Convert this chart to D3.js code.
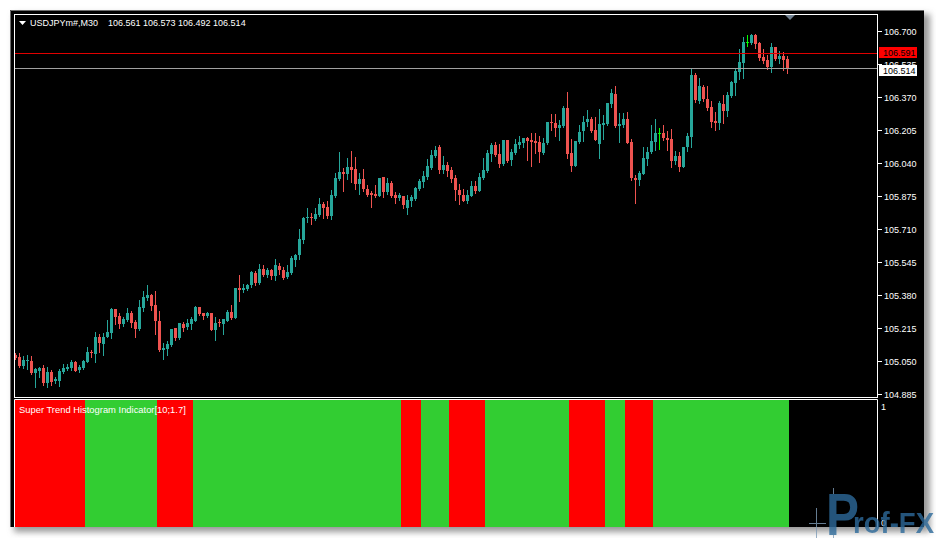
<!DOCTYPE html>
<html><head><meta charset="utf-8">
<script src="https://cdn.jsdelivr.net/npm/d3@7"></script>
<style>html,body{margin:0;padding:0;background:#fff;overflow:hidden}svg{display:block}</style>
</head><body>
<svg id="c" width="936" height="538"></svg>
<script>
const symbolTitle = "USDJPYm#,M30";
const lastQuote = [106.561, 106.573, 106.492, 106.514];
const askPrice = 106.591;
const bidPrice = 106.514;
const priceTicks = [106.700, 106.535, 106.370, 106.205, 106.040, 105.875, 105.710, 105.545, 105.380, 105.215, 105.050, 104.885];
const indicatorName = "Super Trend Histogram Indicator[10;1.7]";
const indicatorTicks = [1, 0];
const watermark = ["P", "rof-FX"];

const open = [
105.080,105.070,105.025,105.050,105.050,104.990,105.000,105.015,104.940,104.995,
104.950,104.950,104.995,105.010,105.015,105.045,105.005,105.015,105.045,105.095,
105.085,105.170,105.135,105.170,105.190,105.310,105.275,105.235,105.255,105.290,
105.245,105.210,105.315,105.365,105.380,105.330,105.250,105.105,105.110,105.130,
105.215,105.165,105.235,105.220,105.235,105.250,105.320,105.290,105.275,105.290,
105.205,105.245,105.235,105.250,105.295,105.265,105.415,105.405,105.410,105.430,
105.490,105.440,105.510,105.480,105.505,105.475,105.525,105.505,105.470,105.490,
105.555,105.580,105.655,105.765,105.770,105.760,105.780,105.835,105.820,105.775,
105.875,105.960,105.995,105.985,106.020,106.010,105.935,105.960,105.910,105.890,
105.885,105.875,105.970,105.895,105.940,105.880,105.865,105.875,105.815,105.850,
105.860,105.910,105.945,105.970,106.015,106.075,106.120,106.005,106.030,106.005,
105.965,105.905,105.880,105.850,105.875,105.925,105.900,105.965,106.000,106.085,
106.130,106.085,106.035,106.155,106.055,106.090,106.130,106.140,106.165,106.155,
106.150,106.145,106.090,106.140,106.245,106.240,106.215,106.225,106.315,106.090,
106.025,106.145,106.200,106.245,106.260,106.205,106.135,106.230,106.235,106.335,
106.385,106.225,106.230,106.260,106.145,105.965,105.955,105.985,106.060,106.095,
106.145,106.190,106.190,106.165,106.160,106.050,106.075,106.020,106.120,106.170,
106.480,106.350,106.420,106.360,106.320,106.250,106.240,106.335,106.300,106.375,
106.440,106.495,106.540,106.645,106.640,106.680,106.640,106.570,106.555,106.520,
106.620,106.560,106.575,106.561];
const high = [
105.090,105.090,105.075,105.080,105.075,105.015,105.020,105.030,105.020,105.005,
104.970,105.010,105.035,105.035,105.055,105.050,105.030,105.055,105.120,105.105,
105.195,105.185,105.190,105.255,105.315,105.310,105.290,105.270,105.315,105.300,
105.255,105.355,105.400,105.430,105.385,105.400,105.300,105.140,105.150,105.210,
105.215,105.240,105.245,105.260,105.270,105.325,105.320,105.290,105.295,105.290,
105.270,105.260,105.260,105.305,105.330,105.415,105.480,105.435,105.435,105.500,
105.500,105.535,105.530,105.515,105.510,105.560,105.540,105.520,105.530,105.575,
105.585,105.710,105.770,105.815,105.790,105.815,105.865,105.845,105.850,105.905,
105.990,106.095,106.015,106.065,106.100,106.070,105.990,106.010,105.930,105.900,
105.930,105.965,105.970,105.965,105.950,105.895,105.890,105.875,105.880,105.880,
105.920,105.960,106.000,106.060,106.105,106.125,106.130,106.075,106.045,106.020,
105.980,105.935,105.910,105.905,105.950,105.950,105.990,106.065,106.105,106.140,
106.145,106.135,106.155,106.155,106.110,106.160,106.175,106.165,106.170,106.190,
106.190,106.175,106.165,106.245,106.285,106.285,106.255,106.325,106.395,106.160,
106.150,106.230,106.275,106.305,106.270,106.270,106.310,106.280,106.340,106.410,
106.425,106.290,106.290,106.295,106.160,105.980,106.000,106.120,106.120,106.230,
106.260,106.215,106.230,106.200,106.210,106.100,106.095,106.120,106.190,106.515,
106.490,106.465,106.430,106.425,106.350,106.295,106.350,106.380,106.395,106.450,
106.510,106.610,106.670,106.680,106.685,106.685,106.645,106.610,106.580,106.640,
106.620,106.600,106.595,106.573];
const low = [
105.060,105.020,105.015,105.010,104.985,104.920,104.970,104.930,104.920,104.930,
104.940,104.925,104.990,105.005,105.005,105.000,104.995,105.010,105.045,105.070,
105.045,105.095,105.080,105.170,105.165,105.235,105.215,105.225,105.250,105.220,
105.170,105.205,105.300,105.355,105.305,105.185,105.100,105.060,105.080,105.125,
105.155,105.160,105.200,105.210,105.210,105.250,105.280,105.260,105.270,105.205,
105.155,105.225,105.185,105.250,105.260,105.265,105.350,105.395,105.405,105.420,
105.430,105.435,105.475,105.470,105.460,105.455,105.485,105.460,105.465,105.485,
105.525,105.560,105.640,105.745,105.735,105.755,105.775,105.765,105.765,105.760,
105.870,105.955,105.900,105.960,105.945,105.910,105.885,105.900,105.875,105.820,
105.870,105.875,105.870,105.885,105.870,105.840,105.855,105.815,105.785,105.825,
105.855,105.905,105.920,105.960,106.010,106.070,105.990,105.990,105.975,105.945,
105.855,105.835,105.850,105.840,105.875,105.890,105.900,105.960,105.995,106.050,
106.075,106.020,106.030,106.045,106.030,106.085,106.115,106.120,106.055,106.025,
106.090,106.045,106.085,106.135,106.205,106.175,106.155,106.220,106.065,106.000,
106.025,106.140,106.150,106.225,106.195,106.155,106.065,106.160,106.230,106.320,
106.220,106.145,106.220,106.140,105.955,105.840,105.930,105.985,106.030,106.090,
106.105,106.110,106.155,106.105,106.020,106.035,106.000,106.020,106.100,106.120,
106.345,106.340,106.350,106.305,106.220,106.205,106.210,106.240,106.275,106.370,
106.380,106.460,106.465,106.625,106.635,106.615,106.555,106.540,106.510,106.495,
106.555,106.540,106.505,106.492];
const close = [
105.065,105.025,105.055,105.055,104.990,105.010,105.015,104.940,104.995,104.945,
104.960,105.000,105.015,105.020,105.045,105.000,105.020,105.050,105.095,105.090,
105.170,105.140,105.170,105.195,105.310,105.270,105.235,105.260,105.290,105.240,
105.210,105.320,105.370,105.380,105.325,105.250,105.105,105.115,105.135,105.210,
105.165,105.240,105.215,105.240,105.260,105.320,105.285,105.275,105.290,105.205,
105.240,105.240,105.260,105.295,105.265,105.415,105.405,105.415,105.430,105.495,
105.440,105.510,105.480,105.505,105.475,105.530,105.505,105.465,105.495,105.565,
105.580,105.660,105.765,105.770,105.765,105.785,105.835,105.815,105.775,105.880,
105.965,105.995,105.985,106.020,106.005,105.935,105.960,105.910,105.880,105.880,
105.875,105.965,105.895,105.940,105.875,105.865,105.880,105.830,105.855,105.870,
105.915,105.950,105.975,106.025,106.080,106.105,106.005,106.030,106.000,105.960,
105.905,105.880,105.850,105.880,105.925,105.900,105.970,106.005,106.090,106.130,
106.080,106.035,106.155,106.050,106.095,106.135,106.145,106.165,106.150,106.145,
106.140,106.095,106.140,106.245,106.240,106.215,106.230,106.315,106.085,106.025,
106.150,106.195,106.245,106.260,106.200,106.155,106.235,106.240,106.340,106.390,
106.225,106.235,106.260,106.140,105.965,105.955,105.990,106.065,106.095,106.150,
106.190,106.190,106.165,106.155,106.050,106.075,106.020,106.120,106.175,106.480,
106.355,106.425,106.360,106.315,106.245,106.240,106.340,106.300,106.380,106.445,
106.500,106.545,106.645,106.645,106.680,106.635,106.565,106.550,106.520,106.620,
106.560,106.575,106.555,106.514];
// Super Trend direction per bar: 1 = up (green), -1 = down (red)
const trend = [
-1,-1,-1,-1,-1,-1,-1,-1,-1,-1,
-1,-1,-1,-1,-1,-1,-1,-1, 1, 1,
 1, 1, 1, 1, 1, 1, 1, 1, 1, 1,
 1, 1, 1, 1, 1, 1,-1,-1,-1,-1,
-1,-1,-1,-1,-1, 1, 1, 1, 1, 1,
 1, 1, 1, 1, 1, 1, 1, 1, 1, 1,
 1, 1, 1, 1, 1, 1, 1, 1, 1, 1,
 1, 1, 1, 1, 1, 1, 1, 1, 1, 1,
 1, 1, 1, 1, 1, 1, 1, 1, 1, 1,
 1, 1, 1, 1, 1, 1, 1,-1,-1,-1,
-1,-1, 1, 1, 1, 1, 1, 1, 1,-1,
-1,-1,-1,-1,-1,-1,-1,-1, 1, 1,
 1, 1, 1, 1, 1, 1, 1, 1, 1, 1,
 1, 1, 1, 1, 1, 1, 1, 1, 1,-1,
-1,-1,-1,-1,-1,-1,-1,-1, 1, 1,
 1, 1, 1,-1,-1,-1,-1,-1,-1,-1,
 1, 1, 1, 1, 1, 1, 1, 1, 1, 1,
 1, 1, 1, 1, 1, 1, 1, 1, 1, 1,
 1, 1, 1, 1, 1, 1, 1, 1, 1, 1,
 1, 1, 1, 1];

const FONT = "'Liberation Sans', Arial, sans-serif";
const n = open.length;
const svg = d3.select("#c");

// window frame + shadow
const defs = svg.append("defs");
defs.append("filter").attr("id","sh").attr("x","-5%").attr("y","-5%").attr("width","110%").attr("height","110%")
  .append("feGaussianBlur").attr("stdDeviation", 3);
defs.append("clipPath").attr("id","cpMain").append("rect").attr("x",15).attr("y",15).attr("width",862).attr("height",382);
defs.append("clipPath").attr("id","cpSub").append("rect").attr("x",15).attr("y",400).attr("width",862).attr("height",127);
svg.append("rect").attr("x",0).attr("y",0).attr("width",936).attr("height",538).attr("fill","#ffffff");
svg.append("rect").attr("x",14).attr("y",14).attr("width",916).attr("height",518).attr("fill","#9a9a9a").attr("filter","url(#sh)");
svg.append("rect").attr("x",10).attr("y",10).attr("width",914).attr("height",517).attr("fill","#000");
svg.append("path").attr("d","M10.5,527 V10.5 H924").attr("stroke","#6e6e6e").attr("fill","none");

// scales
const x = d3.scaleLinear().domain([0, n - 1]).range([15, 15 + 4 * (n - 1)]);
const y = d3.scaleLinear().domain([104.885, 106.700]).range([394, 31]);
const ySub = d3.scaleLinear().domain([0, 1]).range([527, 400]);

// histogram
svg.append("g").attr("clip-path","url(#cpSub)").selectAll("rect").data(trend).join("rect")
  .attr("x", (d,i) => x(i) - 2).attr("width", 4)
  .attr("y", ySub(1)).attr("height", ySub(0) - ySub(1))
  .attr("fill", d => d > 0 ? "#32cd32" : "#ff0000");

// candles
const gC = svg.append("g").attr("clip-path","url(#cpMain)");
const col = i => close[i] > open[i] ? "#26a69a" : (close[i] < open[i] ? "#ef5350" : "#00ff00");
const idx = d3.range(n);
gC.selectAll("line.w").data(idx).join("line").attr("class","w")
  .attr("x1", i => Math.round(x(i)) + 0.5).attr("x2", i => Math.round(x(i)) + 0.5)
  .attr("y1", i => Math.round(y(high[i]))).attr("y2", i => Math.round(y(low[i])) + 1)
  .attr("stroke", col).attr("stroke-width", 1);
gC.selectAll("rect.b").data(idx).join("rect").attr("class","b")
  .attr("x", i => Math.round(x(i)) - 1).attr("width", 3)
  .attr("y", i => Math.round(y(Math.max(open[i], close[i]))))
  .attr("height", i => Math.max(1, Math.round(y(Math.min(open[i], close[i]))) - Math.round(y(Math.max(open[i], close[i])))))
  .attr("fill", col);

// ask / bid lines
gC.append("line").attr("x1",15).attr("x2",877).attr("y1",Math.round(y(askPrice))+0.5).attr("y2",Math.round(y(askPrice))+0.5)
  .attr("stroke","#e00000");
gC.append("line").attr("x1",15).attr("x2",877).attr("y1",Math.round(y(bidPrice))+0.5).attr("y2",Math.round(y(bidPrice))+0.5)
  .attr("stroke","#a0a0a0");

// panel borders
svg.append("rect").attr("x",14.5).attr("y",14.5).attr("width",863).attr("height",383)
  .attr("fill","none").attr("stroke","#fff");
svg.append("path").attr("d","M14.5,527 V399.5 H877.5 V527").attr("fill","none").attr("stroke","#fff");

// price axis
const ax = svg.append("g");
priceTicks.forEach(p => {
  const yy = Math.round(y(p)) + 0.5;
  ax.append("line").attr("x1",878).attr("x2",882).attr("y1",yy).attr("y2",yy).attr("stroke","#fff");
  ax.append("text").attr("x",884).attr("y",yy).attr("dy","0.35em").text(d3.format(".3f")(p))
    .attr("fill","#fff").attr("font-family",FONT).attr("font-size",9);
});
// price labels
[[askPrice, "#ff0000", -6], [bidPrice, "#ffffff", -3]].forEach(([p, bg, off]) => {
  const yy = Math.round(y(p));
  ax.append("rect").attr("x",879).attr("y",yy+off).attr("width",38).attr("height",11).attr("fill",bg);
  ax.append("text").attr("x",883).attr("y",yy+off+5.5).attr("dy","0.35em").text(d3.format(".3f")(p))
    .attr("fill","#000").attr("font-family",FONT).attr("font-size",9);
});
// indicator axis
indicatorTicks.forEach(v => {
  svg.append("text").attr("x",881).attr("y", v === 1 ? ySub(v) + 10 : ySub(v) - 1).text(v)
    .attr("fill","#fff").attr("font-family",FONT).attr("font-size",9);
});

// shift marker
svg.append("path").attr("d","M785,15 L795,15 L790,20 Z").attr("fill","#708090");

// title
svg.append("path").attr("d","M19,21 L26,21 L22.5,25 Z").attr("fill","#fff");
svg.append("text").attr("x",30).attr("y",25.5).text(symbolTitle)
  .attr("fill","#fff").attr("font-family",FONT).attr("font-size",9);
svg.append("text").attr("x",108).attr("y",25.5).text(lastQuote.map(d3.format(".3f")).join(" "))
  .attr("fill","#fff").attr("font-family",FONT).attr("font-size",9);
svg.append("text").attr("x",19).attr("y",413).text(indicatorName)
  .attr("fill","#fff").attr("font-family",FONT).attr("font-size",9.4);

// watermark
const wm = svg.append("g").attr("opacity",0.8);
wm.append("line").attr("x1",816.5).attr("x2",816.5).attr("y1",508).attr("y2",538).attr("stroke","#7f9bb6");
wm.append("line").attr("x1",833.5).attr("x2",833.5).attr("y1",488).attr("y2",538).attr("stroke","#7f9bb6");
wm.append("line").attr("x1",809).attr("x2",826).attr("y1",523.5).attr("y2",523.5).attr("stroke","#7f9bb6");
wm.append("text").attr("x",826).attr("y",535).text(watermark[0]).attr("fill","#2d6a9a")
  .attr("font-family",FONT).attr("font-weight","bold").attr("font-size",60)
  .attr("textLength",33).attr("lengthAdjust","spacingAndGlyphs");
wm.append("text").attr("x",853).attr("y",533).text(watermark[1]).attr("fill","#2d6a9a")
  .attr("font-family",FONT).attr("font-weight","bold").attr("font-size",29)
  .attr("textLength",81).attr("lengthAdjust","spacingAndGlyphs");
</script>
</body></html>
